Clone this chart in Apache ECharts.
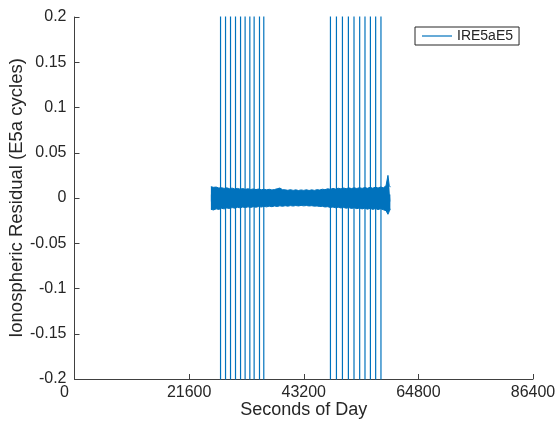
<!DOCTYPE html>
<html>
<head>
<meta charset="utf-8">
<script src="https://cdn.jsdelivr.net/npm/echarts@6/dist/echarts.min.js"></script>
<style>html,body{margin:0;padding:0;background:#fff}#c{width:557px;height:421px}</style>
</head>
<body>
<div id="c"></div>
<script>
// ---- data ----
var seriesName = 'IRE5aE5';
var xTicks = [0, 21600, 43200, 64800, 86400];
var yTicks = [-0.2, -0.15, -0.1, -0.05, 0, 0.05, 0.1, 0.15, 0.2];
// noise band envelope (seconds of day, cycles)
var bandTimes = [25700, 26200, 26700, 27200, 27700, 28200, 28700, 29200, 29700, 30200,
                 30700, 31200, 31700, 32200, 32700, 33200, 33700, 34200, 34700, 35200,
                 35700, 36200, 36700, 37200, 37700, 38200, 38700, 39200, 39700, 40200,
                 40700, 41200, 41700, 42200, 42700, 43200, 43700, 44200, 44700, 45200,
                 45700, 46200, 46700, 47200, 47700, 48200, 48700, 49200, 49700, 50200,
                 50700, 51200, 51700, 52200, 52700, 53200, 53700, 54200, 54700, 55200,
                 55700, 56200, 56700, 57200, 57700, 58200, 58700, 59070, 59300, 59520];
var bandUpper = [0.0125, 0.0118, 0.0121, 0.0110, 0.0114, 0.0106, 0.0112, 0.0103, 0.0109, 0.0100,
                 0.0106, 0.0098, 0.0104, 0.0096, 0.0102, 0.0094, 0.0100, 0.0093, 0.0099, 0.0091,
                 0.0097, 0.0090, 0.0096, 0.0089, 0.0094, 0.0102, 0.0110, 0.0092, 0.0090, 0.0085,
                 0.0092, 0.0084, 0.0090, 0.0083, 0.0089, 0.0084, 0.0091, 0.0083, 0.0090, 0.0084,
                 0.0092, 0.0088, 0.0097, 0.0092, 0.0102, 0.0096, 0.0106, 0.0099, 0.0108, 0.0101,
                 0.0110, 0.0103, 0.0112, 0.0104, 0.0113, 0.0105, 0.0114, 0.0106, 0.0116, 0.0107,
                 0.0118, 0.0108, 0.0120, 0.0110, 0.0122, 0.0112, 0.0135, 0.0250, 0.0140, 0.0120];
var bandLower = [-0.0125, -0.0132, -0.0120, -0.0126, -0.0114, -0.0120, -0.0110, -0.0116, -0.0106, -0.0112,
                 -0.0103, -0.0109, -0.0100, -0.0106, -0.0098, -0.0104, -0.0096, -0.0102, -0.0094, -0.0100,
                 -0.0092, -0.0098, -0.0090, -0.0096, -0.0088, -0.0094, -0.0086, -0.0092, -0.0085, -0.0090,
                 -0.0084, -0.0089, -0.0083, -0.0088, -0.0082, -0.0087, -0.0083, -0.0088, -0.0085, -0.0090,
                 -0.0088, -0.0094, -0.0092, -0.0099, -0.0096, -0.0104, -0.0100, -0.0108, -0.0102, -0.0110,
                 -0.0104, -0.0113, -0.0106, -0.0116, -0.0108, -0.0118, -0.0110, -0.0121, -0.0112, -0.0124,
                 -0.0114, -0.0126, -0.0116, -0.0128, -0.0118, -0.0130, -0.0140, -0.0180, -0.0150, -0.0120];
// outlier spikes (times), values beyond the plotted range
var spikeTimes = [27520, 28460, 29400, 30340, 31290, 32150, 33040, 33850, 34860, 35670,
                  48230, 49360, 50490, 51610, 52670, 53740, 54740, 55760, 56750, 57750];
var spikeHigh = 1;
var spikeLow = -1;

// ---- build series data ----
var upperData = bandTimes.map(function (t, i) { return [t, bandUpper[i]]; });
var lowerData = bandTimes.map(function (t, i) { return [t, bandLower[i]]; });
var spikeData = [];
spikeTimes.forEach(function (t) {
  spikeData.push([t, spikeHigh]);
  spikeData.push([t, spikeLow]);
  spikeData.push([t, '-']);
});

var C = '#0072BD';
var AX = '#262626';
var FONT = '"Liberation Sans", Arial, Helvetica, sans-serif';

var chart = echarts.init(document.getElementById('c'), null, {renderer: 'canvas'});
chart.setOption({
  animation: false,
  backgroundColor: '#fff',
  textStyle: {fontFamily: FONT},
  grid: {left: 74.5, right: 24, top: 17, bottom: 42, containLabel: false, outerBoundsMode: 'none'},
  legend: {
    data: [{name: seriesName, icon: 'rect', itemStyle: {color: C}}],
    left: 415, top: 27,
    orient: 'vertical',
    padding: [2, 6, 2, 7],
    itemWidth: 30, itemHeight: 1.2,
    backgroundColor: '#fff',
    borderColor: AX, borderWidth: 1, borderRadius: 0,
    textStyle: {fontSize: 14, color: AX, fontFamily: FONT},
    selectedMode: false
  },
  xAxis: {
    type: 'value', min: xTicks[0], max: xTicks[xTicks.length - 1], interval: xTicks[1] - xTicks[0],
    name: 'Seconds of Day', nameLocation: 'middle', nameGap: 22, nameMoveOverlap: false,
    nameTextStyle: {fontSize: 18, color: AX, fontFamily: FONT},
    axisLine: {show: true, onZero: false, lineStyle: {color: '#404040', width: 1}},
    axisTick: {show: true, inside: true, length: 5, lineStyle: {color: '#404040'}},
    axisLabel: {
      fontSize: 16, color: AX, margin: 6, fontFamily: FONT,
      formatter: function (v) { return v === 0 ? '{z|0}' : String(v); },
      rich: {z: {fontSize: 16, color: AX, fontFamily: FONT, padding: [0, 20, 0, 0]}}
    },
    splitLine: {show: false}
  },
  yAxis: {
    type: 'value', min: yTicks[0], max: yTicks[yTicks.length - 1], interval: 0.05,
    name: 'Ionospheric Residual (E5a cycles)', nameLocation: 'middle', nameGap: 48, nameRotate: 90,
    nameMoveOverlap: false,
    nameTextStyle: {fontSize: 18.5, color: AX, fontFamily: FONT},
    axisLine: {show: true, onZero: false, lineStyle: {color: '#404040', width: 1}},
    axisTick: {show: true, inside: true, length: 5, lineStyle: {color: '#404040'}},
    axisLabel: {
      fontSize: 16, color: AX, margin: 8, fontFamily: FONT,
      formatter: function (v) { return String(+v.toFixed(2)); }
    },
    splitLine: {show: false}
  },
  series: [
    {
      name: 'spikes', type: 'line', data: spikeData, symbol: 'none', connectNulls: false,
      lineStyle: {color: C, width: 1.2}, clip: true, silent: true, z: 2
    },
    {
      name: seriesName, type: 'line', data: upperData, symbol: 'none',
      lineStyle: {color: C, width: 1}, itemStyle: {color: C},
      areaStyle: {color: C, opacity: 1, origin: -0.004}, clip: true, z: 3
    },
    {
      name: 'lower', type: 'line', data: lowerData, symbol: 'none',
      lineStyle: {color: C, width: 1}, itemStyle: {color: C},
      areaStyle: {color: C, opacity: 1, origin: 0.004}, clip: true, z: 3
    }
  ]
});
</script>
</body>
</html>
